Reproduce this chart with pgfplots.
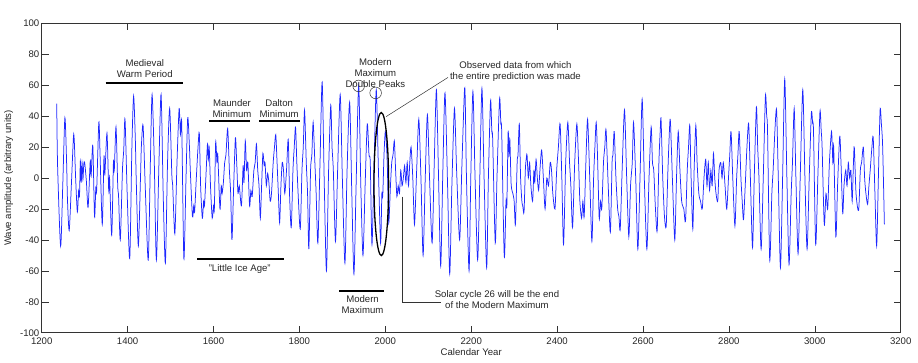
\documentclass[border=0pt]{standalone}
\usepackage{fontspec}
\setmainfont{Liberation Sans}
\usepackage{pgfplots}
\pgfplotsset{compat=1.18}
\definecolor{wave}{RGB}{30,40,255}
\begin{document}
\fontsize{9.6}{11}\selectfont
\begin{tikzpicture}
\path[use as bounding box] (-41.7pt,-29.3pt) rectangle (876.3pt,332.7pt);
\begin{axis}[
  at={(0,0)}, anchor=south west,
  scale only axis, width=859pt, height=309.4pt,
  xmin=1200, xmax=3200, ymin=-100, ymax=100,
  xtick={1200,1400,...,3200}, ytick={-100,-80,...,100},
  tick align=inside, tick pos=both,
  xticklabel pos=lower, yticklabel pos=left,
  major tick length=7pt,
  axis line style={draw=black!80, line width=0.6pt},
  every tick/.style={draw=black!80, line width=0.5pt},
  /pgf/number format/assume math mode=true,
  /pgf/number format/1000 sep={},
  tick label style={font=\fontsize{9.6}{11}\selectfont, text=black!85},
  yticklabel style={xshift=1pt},
  xticklabel style={yshift=-1.5pt},
  label style={font=\fontsize{9.6}{11}\selectfont, text=black!85},
  xlabel={Calendar Year},
  ylabel={Wave amplitude (arbitrary units)},
  xlabel style={at={(axis description cs:0.5,-0.0625)}, anchor=center},
  ylabel style={at={(axis description cs:-0.0385,0.5)}, anchor=center},
]
\addplot[wave, line width=0.75pt, smooth, tension=0.45] coordinates {
(1235,48) (1237,8) (1244,-44) (1249,-5) (1254,39) (1258,10) (1260,-14) (1264,-34)
(1269,-5) (1274,27) (1276,23) (1279,0) (1283,-22) (1286,-8) (1288,-12) (1290,11)
(1292,-3) (1294,10) (1296,-1) (1298,9) (1300,10) (1304,-2) (1308,-19) (1313,11)
(1315,1) (1319,21) (1323,-25) (1326,-6) (1328,-8) (1333,36) (1336,14) (1341,-30)
(1345,14) (1347,2) (1352,29) (1356,-8) (1358,0) (1363,-37) (1367,10) (1369,5)
(1373,33) (1377,-5) (1379,-12) (1383,-40) (1388,5) (1391,18) (1394,38) (1399,-10)
(1405,-52) (1410,20) (1414,53) (1418,25) (1420,0) (1425,-44) (1430,0) (1432,20)
(1436,34) (1441,-5) (1448,-53) (1453,10) (1457,54) (1462,12) (1467,-53) (1473,10)
(1478,54) (1483,-12) (1488,-55) (1493,10) (1498,45) (1503,2) (1505,-5) (1510,-36)
(1515,10) (1520,45) (1523,28) (1526,35) (1531,-52) (1536,0) (1540,39) (1544,20)
(1546,5) (1551,-25) (1554,-18) (1556,-22) (1560,0) (1564,20) (1567,29) (1570,-5)
(1574,-26) (1577,-15) (1579,-18) (1583,5) (1586,22) (1588,12) (1590,20) (1593,-5)
(1597,-26) (1600,-18) (1602,-20) (1605,23) (1608,10) (1610,15) (1615,-20) (1618,-5)
(1620,-10) (1623,-3) (1626,10) (1629,15) (1633,32) (1637,5) (1640,-10) (1643,-40)
(1647,-5) (1651,26) (1654,10) (1657,-10) (1660,-5) (1665,-18) (1669,8) (1671,-3)
(1674,24) (1677,5) (1680,10) (1684,-18) (1687,-8) (1690,-12) (1694,5) (1697,10)
(1700,22) (1703,5) (1706,-5) (1709,-26) (1712,-5) (1715,16) (1718,8) (1720,10)
(1723,-5) (1726,3) (1729,-3) (1732,-15) (1735,-10) (1739,10) (1742,20) (1745,28)
(1748,10) (1751,-10) (1754,-29) (1757,-5) (1760,10) (1763,5) (1766,-10) (1770,5)
(1774,25) (1777,-10) (1781,-32) (1785,5) (1788,20) (1791,33) (1794,10) (1797,-10)
(1802,-33) (1806,5) (1809,20) (1812,44) (1816,10) (1819,-10) (1822,-46) (1826,5)
(1829,15) (1832,36) (1836,10) (1839,-10) (1843,-42) (1848,10) (1853,62) (1858,-5)
(1863,-60) (1868,5) (1873,47) (1876,20) (1879,5) (1884,-41) (1889,5) (1895,54)
(1900,0) (1906,-55) (1911,5) (1917,49) (1922,-10) (1927,-62) (1932,-5) (1938,60)
(1943,-5) (1948,-50) (1953,-5) (1958,35) (1962,15) (1965,10) (1969,-43) (1974,10)
(1979,57) (1984,5) (1989,-42) (1992,-10) (1994,-12) (1997,15) (2000,30) (2003,20)
(2005,5) (2008,-29) (2012,-5) (2015,10) (2018,15) (2021,24) (2024,5) (2027,-12)
(2030,-5) (2033,-10) (2036,5) (2039,-5) (2042,0) (2045,8) (2048,-3) (2051,10)
(2054,-5) (2057,10) (2060,20) (2064,0) (2068,-30) (2073,5) (2078,38) (2083,0)
(2088,-50) (2093,0) (2098,41) (2103,0) (2109,-42) (2114,10) (2119,57) (2124,0)
(2129,-57) (2134,5) (2139,55) (2145,-5) (2150,-62) (2155,-5) (2161,45) (2166,5)
(2173,-40) (2178,5) (2184,55) (2186,52) (2189,0) (2195,-60) (2199,0) (2204,56)
(2209,0) (2215,-53) (2220,0) (2225,58) (2230,0) (2236,-58) (2240,0) (2245,50)
(2248,30) (2250,25) (2256,-42) (2260,0) (2266,51) (2269,35) (2271,30) (2277,-51)
(2281,-15) (2283,-18) (2286,30) (2288,15) (2290,25) (2293,-4) (2297,-10) (2300,-15)
(2303,-30) (2307,10) (2309,15) (2312,35) (2315,0) (2318,-15) (2320,-18) (2323,-22)
(2326,5) (2328,12) (2330,15) (2333,0) (2336,10) (2339,-5) (2343,-15) (2346,5)
(2348,-3) (2351,12) (2354,0) (2357,-8) (2360,5) (2364,18) (2368,0) (2372,-20)
(2376,0) (2380,-5) (2384,10) (2387,5) (2390,-10) (2395,-20) (2399,5) (2403,20)
(2407,35) (2411,0) (2415,-43) (2420,10) (2425,36) (2429,10) (2432,-5) (2436,-32)
(2441,10) (2446,35) (2450,10) (2453,-15) (2457,-26) (2460,-15) (2463,-25) (2467,10)
(2471,38) (2476,0) (2481,-41) (2485,0) (2488,20) (2491,36) (2494,15) (2498,-26)
(2501,-15) (2504,-20) (2508,10) (2511,20) (2514,31) (2519,-5) (2524,-35) (2528,10)
(2530,15) (2533,30) (2537,0) (2541,-20) (2544,-25) (2547,-33) (2552,10) (2557,44)
(2562,0) (2567,-38) (2571,-5) (2575,10) (2578,36) (2583,0) (2588,-46) (2593,0)
(2598,51) (2603,0) (2609,-46) (2614,0) (2619,33) (2622,10) (2625,5) (2629,-20)
(2633,-34) (2637,10) (2640,30) (2642,38) (2646,0) (2650,-25) (2654,-31) (2658,5)
(2663,38) (2666,20) (2669,-5) (2674,-40) (2678,0) (2682,30) (2686,5) (2690,-15)
(2695,-20) (2699,-28) (2703,5) (2706,20) (2709,34) (2712,0) (2716,-33) (2719,5)
(2723,34) (2726,10) (2730,-10) (2734,-15) (2738,-20) (2742,0) (2746,12) (2749,-5)
(2752,10) (2755,-8) (2758,5) (2761,-5) (2764,16) (2767,0) (2770,-10) (2774,-15)
(2777,5) (2781,10) (2784,0) (2787,10) (2791,-5) (2795,-20) (2799,0) (2802,15)
(2805,30) (2809,0) (2814,-31) (2818,0) (2821,15) (2824,30) (2828,0) (2831,-15)
(2834,-27) (2838,-5) (2842,20) (2846,35) (2850,0) (2855,-45) (2859,0) (2864,46)
(2867,20) (2870,0) (2875,-46) (2880,0) (2885,53) (2888,40) (2890,30) (2895,-53)
(2900,-10) (2903,5) (2907,30) (2911,44) (2915,0) (2920,-58) (2925,0) (2930,64)
(2935,0) (2940,-56) (2945,-10) (2948,10) (2952,45) (2956,0) (2961,-49) (2966,0)
(2972,57) (2977,0) (2982,-46) (2987,0) (2992,42) (2995,35) (2997,30) (3002,-43)
(3007,0) (3012,43) (3015,30) (3017,20) (3022,-30) (3026,-10) (3030,-20) (3034,10)
(3039,30) (3042,10) (3044,20) (3049,-38) (3053,-5) (3058,27) (3061,10) (3065,-23)
(3068,-5) (3072,5) (3075,-5) (3078,10) (3081,0) (3084,5) (3087,-15) (3090,10)
(3092,20) (3096,-10) (3102,-21) (3106,5) (3109,10) (3113,20) (3116,0) (3119,-10)
(3123,-17) (3126,-5) (3129,5) (3133,20) (3136,26) (3140,-10) (3144,-44) (3148,0)
(3152,44) (3155,35) (3158,20) (3162,-30)
};
% period bars
\draw[black, line width=2pt] (axis cs:1349,61.7) -- (axis cs:1530,61.7);
\draw[black, line width=2pt] (axis cs:1590,36.6) -- (axis cs:1685,36.6);
\draw[black, line width=2pt] (axis cs:1706,36.6) -- (axis cs:1801,36.6);
\draw[black, line width=2pt] (axis cs:1562,-52.6) -- (axis cs:1764,-52.6);
\draw[black, line width=2pt] (axis cs:1893,-73) -- (axis cs:1998,-73);
% labels
\begin{scope}[every node/.style={align=center, font=\fontsize{9.6}{11}\selectfont, text=black!85, inner sep=0pt}]
\node at (axis cs:1440,70.6) {Medieval\\Warm Period};
\node at (axis cs:1643,45.2) {Maunder\\Minimum};
\node at (axis cs:1753,45.2) {Dalton\\Minimum};
\node at (axis cs:1661,-59) {"Little Ice Age"};
\node at (axis cs:1947,-82) {Modern\\Maximum};
\node at (axis cs:1977,67.7) {Modern\\Maximum\\Double Peaks};
\node at (axis cs:2303,69) {Observed data from which\\the entire prediction was made};
\node at (axis cs:2260,-78.8) {Solar cycle 26 will be the end\\of the Modern Maximum};
\end{scope}
% circles and ellipse
\draw[black!80, line width=0.5pt] (axis cs:1938,59.5) circle[radius=5.8pt];
\draw[black!80, line width=0.5pt] (axis cs:1977.5,55) circle[radius=5.8pt];
\draw[black, line width=1.3pt] (axis cs:1990.7,-3.9) ellipse[x radius=7.3pt, y radius=71.5pt];
% connectors
\draw[black!80, line width=0.5pt] (axis cs:2002,39.7) -- (axis cs:2146,65);
\draw[black!80, line width=0.5pt] (axis cs:2039,-12) -- (axis cs:2039,-80.6) -- (axis cs:2130,-80.6);
\end{axis}
\end{tikzpicture}
\end{document}
